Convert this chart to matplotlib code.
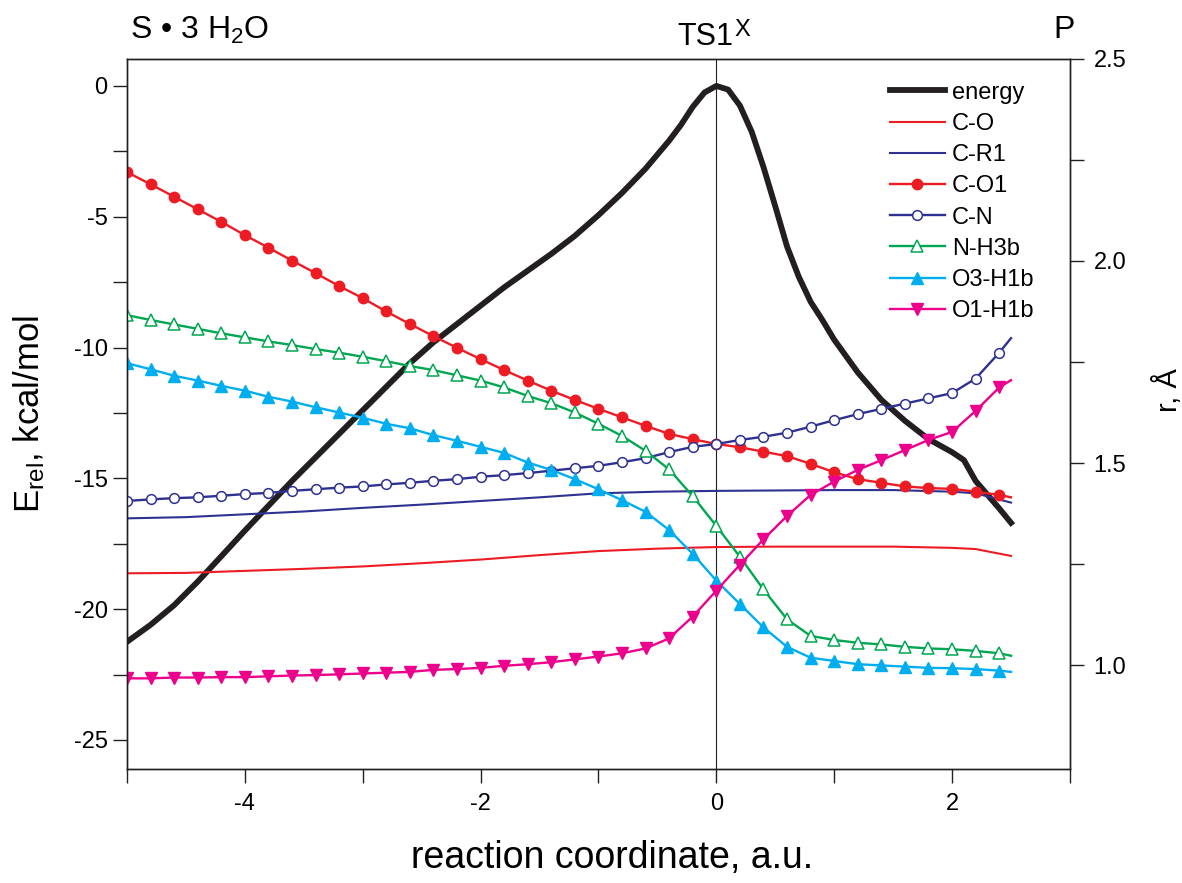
import matplotlib
matplotlib.use('Agg')
import matplotlib.pyplot as plt
from matplotlib.ticker import MultipleLocator, FixedLocator, FormatStrFormatter

plt.rcParams['font.family'] = ['Liberation Sans', 'DejaVu Sans']
plt.rcParams['mathtext.fontset'] = 'custom'
plt.rcParams['mathtext.rm'] = 'Liberation Sans'
plt.rcParams['mathtext.it'] = 'Liberation Sans:italic'
plt.rcParams['axes.unicode_minus'] = False

# reaction coordinate of the IRC points (markers every 0.2, curves end at 2.5)
rc = [-5.0, -4.8, -4.6, -4.4, -4.2, -4.0, -3.8, -3.6, -3.4, -3.2,
      -3.0, -2.8, -2.6, -2.4, -2.2, -2.0, -1.8, -1.6, -1.4, -1.2,
      -1.0, -0.8, -0.6, -0.4, -0.2, 0.0, 0.2, 0.4, 0.6, 0.8,
      1.0, 1.2, 1.4, 1.6, 1.8, 2.0, 2.2, 2.4, 2.5]

# bond lengths, Angstrom (right axis)
r_CO1 = [2.220, 2.190, 2.159, 2.128, 2.097, 2.064, 2.033, 2.001, 1.970, 1.938,
         1.908, 1.875, 1.844, 1.814, 1.785, 1.757, 1.730, 1.704, 1.679, 1.656,
         1.634, 1.613, 1.592, 1.572, 1.559, 1.547, 1.539, 1.528, 1.517, 1.498,
         1.477, 1.460, 1.451, 1.442, 1.438, 1.436, 1.429, 1.421, 1.415]
r_CN = [1.406, 1.410, 1.413, 1.415, 1.419, 1.423, 1.426, 1.431, 1.435, 1.439,
        1.442, 1.447, 1.451, 1.456, 1.460, 1.466, 1.470, 1.475, 1.481, 1.487,
        1.493, 1.502, 1.512, 1.527, 1.540, 1.547, 1.557, 1.565, 1.575, 1.590,
        1.606, 1.621, 1.634, 1.647, 1.660, 1.673, 1.709, 1.773, 1.809]
r_NH3b = [1.866, 1.854, 1.843, 1.832, 1.821, 1.811, 1.801, 1.792, 1.782, 1.773,
          1.763, 1.752, 1.740, 1.730, 1.717, 1.704, 1.687, 1.666, 1.648, 1.625,
          1.597, 1.567, 1.530, 1.484, 1.418, 1.344, 1.268, 1.187, 1.113, 1.072,
          1.062, 1.055, 1.051, 1.045, 1.041, 1.039, 1.035, 1.029, 1.023]
r_O3H1b = [1.747, 1.732, 1.716, 1.704, 1.691, 1.679, 1.664, 1.652, 1.638, 1.625,
           1.612, 1.597, 1.586, 1.569, 1.555, 1.540, 1.525, 1.501, 1.483, 1.460,
           1.435, 1.408, 1.379, 1.334, 1.275, 1.209, 1.151, 1.093, 1.045, 1.018,
           1.010, 1.002, 0.999, 0.996, 0.993, 0.992, 0.990, 0.986, 0.983]
r_O1H1b = [0.967, 0.967, 0.969, 0.969, 0.970, 0.970, 0.972, 0.974, 0.975, 0.977,
           0.979, 0.981, 0.983, 0.988, 0.990, 0.993, 0.998, 1.002, 1.007, 1.014,
           1.021, 1.029, 1.041, 1.066, 1.120, 1.184, 1.248, 1.311, 1.369, 1.421,
           1.454, 1.483, 1.507, 1.532, 1.557, 1.577, 1.629, 1.687, 1.705]

# plain lines read on a coarser grid
rc_plain = [-5.0, -4.5, -4.0, -3.5, -3.0, -2.5, -2.0, -1.5, -1.0, -0.5,
            0.0, 0.5, 1.0, 1.5, 2.0, 2.2, 2.5]
r_CO = [1.227, 1.228, 1.233, 1.238, 1.244, 1.252, 1.261, 1.272, 1.282, 1.288,
        1.292, 1.293, 1.293, 1.293, 1.290, 1.287, 1.270]
r_CR1 = [1.363, 1.366, 1.373, 1.380, 1.389, 1.397, 1.406, 1.415, 1.425, 1.429,
         1.431, 1.432, 1.433, 1.433, 1.429, 1.425, 1.402]

# relative energy, kcal/mol (left axis)
rc_E = [-5.0, -4.8, -4.6, -4.4, -4.2, -4.0, -3.8, -3.6, -3.4, -3.2,
        -3.0, -2.8, -2.6, -2.4, -2.2, -2.0, -1.8, -1.6, -1.4, -1.2,
        -1.0, -0.8, -0.6, -0.4, -0.3, -0.2, -0.1, 0.0, 0.1, 0.2,
        0.3, 0.4, 0.5, 0.6, 0.7, 0.8, 0.9, 1.0, 1.2, 1.4,
        1.6, 1.8, 2.0, 2.1, 2.2, 2.4, 2.5]
E_rel = [-21.25, -20.6, -19.85, -18.95, -17.98, -17.0, -16.05, -15.1, -14.2, -13.3,
         -12.4, -11.5, -10.6, -9.8, -9.1, -8.4, -7.7, -7.06, -6.42, -5.73,
         -4.94, -4.09, -3.16, -2.09, -1.49, -0.8, -0.25, 0.0, -0.14, -0.75,
         -1.75, -3.1, -4.6, -6.14, -7.3, -8.25, -8.95, -9.7, -10.95, -12.0,
         -12.8, -13.5, -14.0, -14.3, -15.1, -16.15, -16.7]

red = '#ED1C24'
navy = '#2E3192'
green = '#00A651'
cyan = '#00AEEF'
magenta = '#EC008C'
black = '#231F20'

fig = plt.figure(figsize=(11.82, 8.83), dpi=100)
ax = fig.add_axes([0.1074, 0.1291, 0.7978, 0.8041])
ax2 = ax.twinx()

ax.axvline(0, color=black, lw=0.8, zorder=1)
h_E, = ax.plot(rc_E, E_rel, color=black, lw=4.2, label='energy')

mk = slice(0, 38)
h_CO, = ax2.plot(rc_plain, r_CO, color=red, lw=1.5, label='C-O')
h_CR1, = ax2.plot(rc_plain, r_CR1, color=navy, lw=1.5, label='C-R1')
h_CO1, = ax2.plot(rc, r_CO1, color=red, lw=1.7, marker='o', ms=7.5,
                  mec=red, mfc=red, markevery=mk, label='C-O1')
h_CN, = ax2.plot(rc, r_CN, color=navy, lw=1.7, marker='o', ms=7,
                 mec=navy, mfc='white', mew=1.1, markevery=mk, label='C-N')
h_NH, = ax2.plot(rc, r_NH3b, color=green, lw=1.7, marker='^', ms=8,
                 mec=green, mfc='white', mew=1.1, markevery=mk, label='N-H3b')
h_O3, = ax2.plot(rc, r_O3H1b, color=cyan, lw=1.7, marker='^', ms=8.5,
                 mec=cyan, mfc=cyan, markevery=mk, label='O3-H1b')
h_O1, = ax2.plot(rc, r_O1H1b, color=magenta, lw=1.7, marker='v', ms=8.5,
                 mec=magenta, mfc=magenta, markevery=mk, label='O1-H1b')

ax.set_xlim(-5, 3)
ax.set_ylim(-26.11, 1.03)
ax2.set_ylim(0.7426, 2.5)

ax.xaxis.set_major_locator(MultipleLocator(2))
ax.xaxis.set_minor_locator(MultipleLocator(1))
ax.yaxis.set_major_locator(MultipleLocator(5))
ax.yaxis.set_minor_locator(MultipleLocator(2.5))
ax2.yaxis.set_major_locator(FixedLocator([1.0, 1.5, 2.0, 2.5]))
ax2.yaxis.set_minor_locator(FixedLocator([1.25, 1.75, 2.25]))
ax2.yaxis.set_major_formatter(FormatStrFormatter('%.1f'))

for a in (ax, ax2):
    for s in a.spines.values():
        s.set_linewidth(1.0)
        s.set_color(black)
ax.tick_params(which='both', direction='out', length=10, width=1, color=black,
               labelsize=17, top=False, right=False)
ax.tick_params(axis='y', pad=4)
ax.tick_params(axis='x', pad=7)
ax2.tick_params(which='both', direction='out', length=10, width=1, color=black,
                labelsize=17, pad=7)

ax.set_xlabel('reaction coordinate, a.u.', fontsize=27)
ax.xaxis.set_label_coords(0.514, -0.1)
ax.set_ylabel(r'E$_{\mathrm{rel}}$, kcal/mol', fontsize=25)
ax.yaxis.set_label_coords(-0.085, 0.5)
ax2.set_ylabel('r, Å', fontsize=21)
ax2.yaxis.set_label_coords(1.088, 0.534)

# structure labels above the frame
fig.text(130 / 1182, 1 - 30 / 883, r'S • 3 H$_{\mathrm{2}}$O', fontsize=23, ha='left', va='center')
fig.text(677 / 1182, 1 - 45 / 883, 'TS1', fontsize=22, ha='left', va='baseline')
fig.text(734 / 1182, 1 - 36 / 883, 'X', fontsize=17, ha='left', va='baseline')
fig.text(1064 / 1182, 1 - 30 / 883, 'P', fontsize=23, ha='center', va='center')

handles = [h_E, h_CO, h_CR1, h_CO1, h_CN, h_NH, h_O3, h_O1]
ax2.legend(handles=handles, loc='upper left', bbox_to_anchor=(0.809, 0.968),
           frameon=False, fontsize=17, borderpad=0, borderaxespad=0,
           handlelength=2.33, handletextpad=0.3, labelspacing=0.39, numpoints=1)

fig.savefig('out.png', dpi=100)
